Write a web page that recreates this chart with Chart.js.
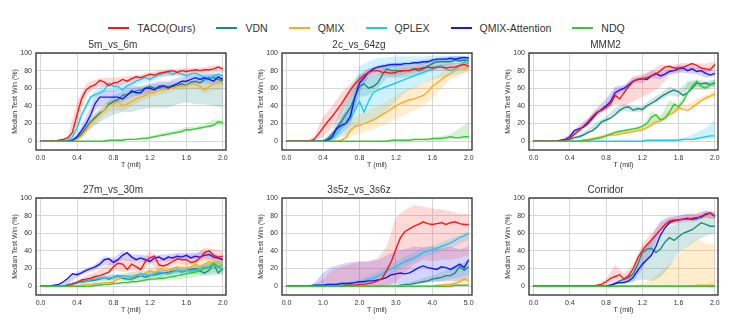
<!DOCTYPE html>
<html>
<head>
<meta charset="utf-8">
<title>Median test win</title>
<script src="https://cdn.jsdelivr.net/npm/chart.js@4.4.1/dist/chart.umd.min.js"></script>
<style>
  body { margin: 0; width: 733px; height: 327px; background: #fff; position: relative; overflow: hidden;
         font-family: "Liberation Sans", Arial, sans-serif; color: #333; }
  #legend { position: absolute; left: 0; width: 733px; top: 22px; display: flex; justify-content: center;
            font-size: 10.5px; line-height: 12px; }
  #legend .item { display: flex; align-items: center; margin: 0 10.5px; }
  #legend .swatch { width: 21px; height: 2px; margin-right: 8px; }
  .panel { position: absolute; }
</style>
</head>
<body>
<div id="legend"></div>
<canvas class="panel" id="p0"></canvas>
<canvas class="panel" id="p1"></canvas>
<canvas class="panel" id="p2"></canvas>
<canvas class="panel" id="p3"></canvas>
<canvas class="panel" id="p4"></canvas>
<canvas class="panel" id="p5"></canvas>
<script>
// time axis samples (million steps)
const T2 = [0,0.05,0.1,0.15,0.2,0.25,0.3,0.35,0.4,0.45,0.5,0.55,0.6,0.65,0.7,0.75,0.8,0.85,0.9,0.95,1,1.05,1.1,1.15,1.2,1.25,1.3,1.35,1.4,1.45,1.5,1.55,1.6,1.65,1.7,1.75,1.8,1.85,1.9,1.95,2];
const TB2 = [0,0.1,0.2,0.3,0.4,0.5,0.6,0.7,0.8,0.9,1,1.1,1.2,1.3,1.4,1.5,1.6,1.7,1.8,1.9,2];
const T5 = [0,0.125,0.25,0.375,0.5,0.625,0.75,0.875,1,1.125,1.25,1.375,1.5,1.625,1.75,1.875,2,2.125,2.25,2.375,2.5,2.625,2.75,2.875,3,3.125,3.25,3.375,3.5,3.625,3.75,3.875,4,4.125,4.25,4.375,4.5,4.625,4.75,4.875,5];
const TB5 = [0,0.25,0.5,0.75,1,1.25,1.5,1.75,2,2.25,2.5,2.75,3,3.25,3.5,3.75,4,4.25,4.5,4.75,5];

const methods = ['TACO(Ours)', 'VDN', 'QMIX', 'QPLEX', 'QMIX-Attention', 'NDQ'];
const lineColors = ['#ff1414', '#1b8a84', '#ffab1f', '#22c4f7', '#1515ff', '#36c936'];
const bandColors = ['rgba(255,60,60,0.2)', 'rgba(27,138,132,0.2)', 'rgba(255,171,31,0.22)',
                    'rgba(34,196,247,0.22)', 'rgba(40,40,255,0.2)', 'rgba(54,201,54,0.22)'];
const yTicks = [0, 20, 40, 60, 80, 100];
const xTicks2 = [0, 0.4, 0.8, 1.2, 1.6, 2.0];
const xTicks5 = [0, 1, 2, 3, 4, 5];

// 5m_vs_6m
const m5Taco = [0,0,0,0,1,2,4,10,30,48,58,62,64,69,67,63,66,67,70,68,71,73,72,74,76,75,77,78,79,80,78,80,79,80,81,80,81,81,82,84,82];
const m5Vdn = [0,0,0,0,0,0,0,1,3,8,15,22,27,32,35,42,45,47,52,53,55,57,58,60,62,60,60,62,62,62,63,65,63,67,68,66,70,72,72,70,68];
const m5Qmix = [0,0,0,0,0,0,0,1,2,6,12,20,25,30,35,40,42,45,40,42,45,48,50,52,55,55,58,58,60,60,62,62,63,65,65,62,58,62,65,68,65];
const m5Qplex = [0,0,0,0,0,0,1,5,15,30,40,50,53,55,58,66,62,62,58,63,65,68,70,72,70,73,75,77,78,76,78,76,74,76,77,75,72,70,74,76,74];
const m5Att = [0,0,0,0,0,0,0,1,5,12,20,30,43,50,50,50,50,50,48,52,57,55,55,60,60,58,62,63,60,63,65,68,68,70,72,70,72,70,68,73,70];
const m5Ndq = [0,0,0,0,0,0,0,0,0,0,0,0,0,0,0,1,1,1,1,2,2,2,3,3,4,5,6,7,8,9,10,11,13,13,14,15,16,17,18,22,21];
const m5TacoLo = [0,0,0,1,18,52,60,62,62,64,67,70,72,74,74,75,75,77,77,78,78];
const m5TacoHi = [0,0,1,6,45,65,70,72,72,73,74,76,78,80,82,82,83,83,84,86,85];
const m5VdnLo = [0,0,0,0,1,10,18,25,30,33,33,36,38,38,38,42,44,42,42,40,38];
const m5VdnHi = [0,0,0,1,5,20,32,42,52,56,60,62,64,65,66,68,68,70,74,76,72];
const m5QmixLo = [0,0,0,0,0,8,20,30,36,34,40,45,50,52,55,58,58,60,54,58,58];
const m5QmixHi = [0,0,0,0,4,18,32,42,46,46,52,56,60,62,64,66,68,68,66,70,70];
const m5QplexLo = [0,0,0,0,10,36,50,55,56,58,62,66,67,71,74,74,71,73,68,70,70];
const m5QplexHi = [0,0,0,1,20,45,58,64,66,66,70,74,74,78,80,80,78,80,77,78,78];
const m5AttLo = [0,0,0,0,2,14,35,42,42,45,50,52,55,58,58,62,63,65,66,64,65];
const m5AttHi = [0,0,0,0,8,28,52,58,58,60,63,62,65,68,68,72,73,75,76,76,76];
const m5NdqLo = [0,0,0,0,0,0,0,0,0,1,1,2,3,5,7,9,11,13,15,17,18];
const m5NdqHi = [0,0,0,0,0,0,0,1,2,3,3,4,6,9,11,13,16,17,19,25,24];

// 2c_vs_64zg
const c2Taco = [0,0,0,0,0,0,2,8,15,22,28,35,42,50,58,65,70,75,78,80,80,78,78,77,78,80,80,80,82,82,83,84,83,84,84,83,84,84,86,87,85];
const c2Vdn = [0,0,0,0,0,0,0,0,0,3,8,15,22,30,38,50,62,65,60,62,66,75,82,80,80,79,80,80,82,80,82,85,88,90,90,90,90,92,91,92,91];
const c2Qmix = [0,0,0,0,0,0,0,0,0,0,0,0,1,4,12,17,18,20,22,24,27,30,33,37,40,43,45,47,48,50,52,56,62,66,70,74,77,80,82,82,84];
const c2Qplex = [0,0,0,0,0,0,0,0,0,0,3,8,15,20,25,35,45,33,45,55,58,60,62,64,66,68,70,72,74,76,78,80,81,84,86,82,80,82,85,90,88];
const c2Att = [0,0,0,0,0,0,0,0,0,1,5,14,18,20,28,50,66,72,78,82,84,85,86,87,87,87,88,88,89,89,90,90,92,93,93,93,94,93,94,95,94];
const c2Ndq = [0,0,0,0,0,0,0,0,0,0,0,0,0,0,0,0,0,0,0,0,0,0,0,1,1,1,1,1,2,2,2,2,3,3,3,4,5,4,4,5,5];
const c2TacoLo = [0,0,0,0,5,15,30,48,62,72,75,74,74,76,78,79,80,80,80,82,81];
const c2TacoHi = [0,0,0,5,28,40,55,65,75,82,84,82,82,84,85,87,86,87,88,89,89];
const c2VdnLo = [0,0,0,0,0,2,15,22,50,52,60,72,72,72,74,76,80,84,86,88,88];
const c2VdnHi = [0,0,0,0,1,12,40,62,75,72,75,88,86,86,86,88,92,94,95,96,95];
const c2QmixLo = [0,0,0,0,0,0,0,5,8,12,15,20,25,30,35,40,48,60,70,75,78];
const c2QmixHi = [0,0,0,0,0,0,2,25,30,35,40,45,52,58,62,66,72,78,84,88,90];
const c2QplexLo = [0,0,0,0,0,0,5,10,20,22,25,35,45,55,60,66,70,72,74,76,80];
const c2QplexHi = [0,0,0,0,0,6,25,50,85,90,94,95,96,96,96,96,97,97,97,97,97];
const c2AttLo = [0,0,0,0,0,0,8,18,55,74,80,83,84,85,86,87,89,90,91,92,92];
const c2AttHi = [0,0,0,0,0,8,28,40,75,82,86,88,89,90,91,92,94,95,96,97,96];
const c2NdqLo = [0,0,0,0,0,0,0,0,0,0,0,0,0,0,0,0,0,0,2,2,3];
const c2NdqHi = [0,0,0,0,0,0,0,0,0,0,0,1,2,2,3,3,4,6,8,15,22];

// MMM2
const mmTaco = [0,0,0,0,0,0,0,1,3,8,12,17,22,28,33,35,38,42,52,48,55,62,68,70,71,72,74,76,80,84,85,83,83,84,86,88,86,83,82,81,87];
const mmVdn = [0,0,0,0,0,0,0,1,2,4,5,7,10,12,16,22,24,26,30,35,38,39,35,37,36,40,43,46,50,53,56,58,56,52,55,60,66,65,66,64,66];
const mmQmix = [0,0,0,0,0,0,0,0,0,0,0,1,2,3,4,5,6,7,7,8,9,10,11,12,13,15,18,22,23,26,30,33,38,36,35,38,42,46,49,51,54];
const mmQplex = [0,0,0,0,0,0,0,0,0,0,0,0,0,0,0,0,0,0,0,0,0,0,0,0,0,1,1,1,1,1,1,1,1,2,2,2,3,4,5,6,6];
const mmAtt = [0,0,0,0,0,0,1,2,5,12,14,16,20,26,32,36,40,45,55,58,60,64,68,70,71,70,74,77,74,76,79,80,82,83,80,82,79,80,77,75,77];
const mmNdq = [0,0,0,0,0,0,0,0,0,0,0,1,1,2,3,4,6,8,10,11,12,13,14,15,17,20,27,30,24,26,33,42,39,45,55,62,68,62,60,64,67];
const mmTacoLo = [0,0,0,0,2,10,19,30,35,42,40,45,50,55,62,75,78,82,80,76,82];
const mmTacoHi = [0,0,0,1,4,14,25,36,42,60,62,74,76,80,87,86,88,89,88,88,90];
const mmVdnLo = [0,0,0,0,1,3,8,14,22,30,34,33,33,42,46,52,50,60,62,60,62];
const mmVdnHi = [0,0,0,0,3,7,14,22,28,38,42,40,40,48,54,62,58,68,70,68,70];
const mmQmixLo = [0,0,0,0,0,0,1,3,6,7,8,9,12,18,22,30,34,36,42,46,50];
const mmQmixHi = [0,0,0,0,0,1,3,6,9,10,11,13,16,24,28,36,40,42,48,53,58];
const mmQplexLo = [0,0,0,0,0,0,0,0,0,0,0,0,0,0,0,0,0,1,1,2,2];
const mmQplexHi = [0,0,0,0,0,0,0,0,0,0,0,0,1,1,2,2,3,5,10,15,24];
const mmAttLo = [0,0,0,0,3,11,17,28,38,50,56,66,66,72,70,76,78,77,76,72,74];
const mmAttHi = [0,0,0,2,8,18,26,38,48,62,64,72,74,80,78,82,86,85,84,82,80];
const mmNdqLo = [0,0,0,0,0,0,0,1,4,8,10,12,13,18,20,28,35,58,58,58,62];
const mmNdqHi = [0,0,0,0,0,0,1,3,8,12,14,15,17,34,28,46,42,66,68,66,70];

// 27m_vs_30m
const m27Taco = [0,0,0,0,0,0,1,2,4,7,8,9,11,12,14,16,22,26,25,19,25,22,19,28,32,34,24,23,25,28,31,30,30,27,28,32,38,40,35,33,34];
const m27Vdn = [0,0,0,0,0,0,1,3,4,5,6,6,7,8,10,8,10,12,9,8,8,10,12,10,12,13,14,15,16,17,18,16,18,19,20,17,15,18,25,15,20];
const m27Qmix = [0,0,0,0,0,0,0,0,0,1,2,2,3,3,4,4,5,8,10,11,12,13,12,15,18,15,20,18,17,20,22,18,20,22,25,22,25,28,25,28,27];
const m27Qplex = [0,0,0,0,0,0,2,3,4,4,5,7,8,9,10,9,10,11,12,11,10,12,14,13,12,14,16,15,14,16,18,17,18,17,18,20,22,21,24,22,24];
const m27Att = [0,0,0,1,2,5,9,14,13,15,18,20,22,25,30,31,27,30,35,38,33,30,32,30,28,32,33,30,33,32,34,33,35,32,34,33,35,36,33,32,30];
const m27Ndq = [0,0,0,0,0,0,0,0,0,0,0,0,1,1,2,2,3,3,4,4,5,5,6,7,8,8,9,9,10,11,12,13,14,15,16,18,20,22,26,22,18];
const m27TacoLo = [0,0,0,0,3,5,9,12,18,16,18,15,26,18,22,26,24,26,30,28,28];
const m27TacoHi = [0,0,0,2,6,12,16,22,30,32,30,28,40,30,32,36,36,36,44,42,40];
const m27VdnLo = [0,0,0,0,2,4,5,6,7,6,6,8,9,10,12,14,14,14,12,12,14];
const m27VdnHi = [0,0,0,2,6,8,10,12,13,12,12,14,16,18,20,22,22,24,24,28,26];
const m27QmixLo = [0,0,0,0,0,1,2,3,6,9,10,10,13,14,14,16,16,18,20,20,22];
const m27QmixHi = [0,0,0,0,1,3,5,6,10,14,16,17,20,22,22,26,26,30,32,32,32];
const m27QplexLo = [0,0,0,1,3,4,6,7,9,8,10,10,11,12,13,15,15,16,18,20,20];
const m27QplexHi = [0,0,0,4,6,8,11,12,14,14,16,16,18,19,20,22,22,23,26,28,28];
const m27AttLo = [0,0,0,3,10,15,18,24,24,30,28,28,26,28,28,30,30,30,32,30,27];
const m27AttHi = [0,0,1,8,16,20,25,34,32,40,36,36,34,36,36,38,38,38,40,37,34];
const m27NdqLo = [0,0,0,0,0,0,0,1,2,3,4,5,6,7,7,8,9,10,12,16,12];
const m27NdqHi = [0,0,0,0,0,0,2,3,5,6,7,9,10,12,14,16,18,20,26,30,26];

// 3s5z_vs_3s6z
const s3Taco = [0,0,0,0,0,0,0,0,0,0,0,0,0,1,1,1,2,2,3,4,6,9,18,28,42,55,62,65,68,70,73,71,70,71,72,70,72,73,71,70,70];
const s3Vdn = [0,0,0,0,0,0,0,0,0,0,0,0,0,0,0,0,0,0,0,0,0,0,0,0,0,1,2,2,3,4,5,6,8,9,10,12,12,15,22,18,22];
const s3Qmix = [0,0,0,0,0,0,0,0,0,0,0,0,0,0,0,0,0,0,0,0,0,0,0,0,0,0,0,0,0,0,0,0,0,1,1,2,2,3,5,8,6];
const s3Qplex = [0,0,0,0,0,0,1,1,1,2,2,2,3,3,4,4,5,6,8,9,11,14,17,20,22,25,28,30,32,35,38,40,41,43,45,47,49,52,55,57,60];
const s3Att = [0,0,0,0,0,0,1,1,1,2,2,2,3,3,3,4,5,5,6,6,7,8,10,13,14,15,14,15,18,21,23,21,20,19,22,21,19,22,25,21,30];
const s3Ndq = [0,0,0,0,0,0,0,0,0,0,0,0,0,0,0,0,0,0,0,0,0,0,0,0,0,0,0,0,0,0,0,0,0,0,0,0,0,1,1,1,1];
const s3TacoLo = [0,0,0,0,0,0,0,0,0,0,0,0,5,15,25,30,28,30,30,32,35];
const s3TacoHi = [0,0,0,2,8,18,22,25,28,28,32,45,78,86,92,90,88,87,85,82,82];
const s3VdnLo = [0,0,0,0,0,0,0,0,0,0,0,0,0,0,1,3,5,6,8,10,14];
const s3VdnHi = [0,0,0,0,0,0,0,0,0,0,0,0,1,3,6,9,12,16,20,25,30];
const s3QmixLo = [0,0,0,0,0,0,0,0,0,0,0,0,0,0,0,0,0,0,0,0,0];
const s3QmixHi = [0,0,0,0,0,0,0,0,0,0,0,0,0,0,0,0,1,3,5,10,15];
const s3QplexLo = [0,0,0,0,0,0,1,2,3,5,7,12,17,22,28,33,36,40,43,48,52];
const s3QplexHi = [0,0,0,0,1,2,4,6,8,12,16,22,28,34,38,44,46,50,54,58,62];
const s3AttLo = [0,0,0,0,0,0,0,0,0,0,0,1,2,3,4,4,5,5,6,6,8];
const s3AttHi = [0,0,0,3,15,22,25,27,28,28,30,35,40,42,45,44,45,43,45,42,45];

// Corridor
const corTaco = [0,0,0,0,0,0,0,0,0,0,0,0,0,0,1,2,5,9,11,13,8,12,20,32,40,47,52,58,64,70,74,75,75,76,76,77,78,78,81,83,80];
const corVdn = [0,0,0,0,0,0,0,0,0,0,0,0,0,0,0,0,0,1,3,6,8,10,14,25,38,42,43,38,42,50,55,52,56,60,62,64,68,72,70,68,68];
const corQmix = [0,0,0,0,0,0,0,0,0,0,0,0,0,0,0,0,0,0,0,0,0,0,0,0,0,0,0,0,0,0,0,0,0,0,0,0,1,1,1,1,1];
const corQplex = [0,0,0,0,0,0,0,0,0,0,0,0,0,0,0,0,0,0,0,0,0,0,0,0,0,0,0,0,0,0,0,0,0,0,0,0,0,0,0,0,0];
const corAtt = [0,0,0,0,0,0,0,0,0,0,0,0,0,0,0,0,0,1,3,4,4,6,10,18,25,30,35,45,58,66,72,74,75,76,77,76,77,79,82,83,79];
const corNdq = [0,0,0,0,0,0,0,0,0,0,0,0,0,0,0,0,0,0,0,0,0,0,0,0,0,0,0,0,0,0,0,0,0,0,0,0,0,0,0,0,0];
const corTacoLo = [0,0,0,0,0,0,0,0,2,5,5,12,32,48,62,70,72,74,75,78,76];
const corTacoHi = [0,0,0,0,0,0,0,1,8,24,14,25,48,60,72,78,80,82,82,85,84];
const corVdnLo = [0,0,0,0,0,0,0,0,0,2,4,5,8,6,10,22,38,45,52,57,60];
const corVdnHi = [0,0,0,0,0,0,0,0,1,4,10,20,45,50,60,68,72,74,78,80,78];
const corQmixLo = [0,0,0,0,0,0,0,0,0,0,0,0,0,0,0,0,0,0,0,0,0];
const corQmixHi = [0,0,0,0,0,0,0,0,0,0,0,1,3,8,16,25,35,46,54,48,48];
const corAttLo = [0,0,0,0,0,0,0,0,0,2,3,5,20,38,62,70,72,73,74,78,76];
const corAttHi = [0,0,0,0,0,0,0,0,1,5,7,14,32,56,74,79,80,82,82,86,84];

// series order: TACO, VDN, QMIX, QPLEX, QMIX-Attention, NDQ
const panels = [
  { title: '5m_vs_6m', box: [36, 53, 226, 150], t: T2, tb: TB2, xt: xTicks2, xmin: -0.05, xmax: 2.035,
    mean: [m5Taco, m5Vdn, m5Qmix, m5Qplex, m5Att, m5Ndq],
    lo: [m5TacoLo, m5VdnLo, m5QmixLo, m5QplexLo, m5AttLo, m5NdqLo],
    hi: [m5TacoHi, m5VdnHi, m5QmixHi, m5QplexHi, m5AttHi, m5NdqHi] },
  { title: '2c_vs_64zg', box: [282, 53, 472, 150], t: T2, tb: TB2, xt: xTicks2, xmin: -0.05, xmax: 2.035,
    mean: [c2Taco, c2Vdn, c2Qmix, c2Qplex, c2Att, c2Ndq],
    lo: [c2TacoLo, c2VdnLo, c2QmixLo, c2QplexLo, c2AttLo, c2NdqLo],
    hi: [c2TacoHi, c2VdnHi, c2QmixHi, c2QplexHi, c2AttHi, c2NdqHi] },
  { title: 'MMM2', box: [529, 53, 718, 150], t: T2, tb: TB2, xt: xTicks2, xmin: -0.05, xmax: 2.035,
    mean: [mmTaco, mmVdn, mmQmix, mmQplex, mmAtt, mmNdq],
    lo: [mmTacoLo, mmVdnLo, mmQmixLo, mmQplexLo, mmAttLo, mmNdqLo],
    hi: [mmTacoHi, mmVdnHi, mmQmixHi, mmQplexHi, mmAttHi, mmNdqHi] },
  { title: '27m_vs_30m', box: [36, 198, 226, 295], t: T2, tb: TB2, xt: xTicks2, xmin: -0.05, xmax: 2.035,
    mean: [m27Taco, m27Vdn, m27Qmix, m27Qplex, m27Att, m27Ndq],
    lo: [m27TacoLo, m27VdnLo, m27QmixLo, m27QplexLo, m27AttLo, m27NdqLo],
    hi: [m27TacoHi, m27VdnHi, m27QmixHi, m27QplexHi, m27AttHi, m27NdqHi] },
  { title: '3s5z_vs_3s6z', box: [282, 198, 472, 295], t: T5, tb: TB5, xt: xTicks5, xmin: -0.125, xmax: 5.09,
    mean: [s3Taco, s3Vdn, s3Qmix, s3Qplex, s3Att, s3Ndq],
    lo: [s3TacoLo, s3VdnLo, s3QmixLo, s3QplexLo, s3AttLo, null],
    hi: [s3TacoHi, s3VdnHi, s3QmixHi, s3QplexHi, s3AttHi, null] },
  { title: 'Corridor', box: [529, 198, 718, 295], t: T2, tb: TB2, xt: xTicks2, xmin: -0.05, xmax: 2.035,
    mean: [corTaco, corVdn, corQmix, corQplex, corAtt, corNdq],
    lo: [corTacoLo, corVdnLo, corQmixLo, null, corAttLo, null],
    hi: [corTacoHi, corVdnHi, corQmixHi, null, corAttHi, null] }
];

// which line sits on top (lower = drawn later)
const lineOrder = [1, 5, 4, 3, 2, 0];

const textColor = '#333';
const gridColor = '#d6d6d6';
const fontFamily = '"Liberation Sans", Arial, sans-serif';
const tickFamily = '"Liberation Sans Narrow", "Liberation Sans", Arial, sans-serif';

const frame = {
  id: 'frame',
  afterDraw(chart) {
    const { ctx, chartArea: a } = chart;
    ctx.save();
    ctx.strokeStyle = '#2b2b2b';
    ctx.lineWidth = 1.3;
    ctx.strokeRect(a.left, a.top, a.right - a.left, a.bottom - a.top);
    ctx.restore();
  }
};

// legend
const legendEl = document.getElementById('legend');
methods.forEach((m, i) => {
  const item = document.createElement('div');
  item.className = 'item';
  item.innerHTML = `<span class="swatch" style="background:${lineColors[i]}"></span><span>${m}</span>`;
  legendEl.appendChild(item);
});

const toPoints = (xs, ys) => xs.map((x, i) => ({ x, y: ys[i] }));

panels.forEach((p, k) => {
  const [L, T, R, B] = p.box;
  const canvas = document.getElementById('p' + k);
  const padL = 36, padT = 14, padR = 10, padB = 23;
  canvas.width = R - L + padL + padR;
  canvas.height = B - T + padT + padB;
  canvas.style.left = (L - padL) + 'px';
  canvas.style.top = (T - padT) + 'px';

  const datasets = [];
  methods.forEach((m, s) => {
    if (!p.lo[s]) return;
    datasets.push({ label: m + ' hi', data: toPoints(p.tb, p.hi[s]), borderWidth: 0, pointRadius: 0,
                    fill: false, order: 10 });
    datasets.push({ label: m + ' lo', data: toPoints(p.tb, p.lo[s]), borderWidth: 0, pointRadius: 0,
                    fill: '-1', backgroundColor: bandColors[s], order: 10 });
  });
  methods.forEach((m, s) => {
    datasets.push({ label: m, data: toPoints(p.t, p.mean[s]), borderColor: lineColors[s], borderWidth: 1.4,
                    pointRadius: 0, fill: false, tension: 0, order: lineOrder[s] });
  });

  new Chart(canvas, {
    type: 'line',
    data: { datasets },
    options: {
      responsive: false,
      animation: false,
      devicePixelRatio: 1,
      layout: { padding: { left: 0, top: 0, right: padR, bottom: 0 } },
      plugins: {
        legend: { display: false },
        tooltip: { enabled: false },
        title: { display: true, text: p.title, color: textColor, font: { family: fontFamily, size: 10, weight: 'normal' },
                 padding: { top: 0, bottom: 2 } }
      },
      scales: {
        x: {
          type: 'linear', min: p.xmin, max: p.xmax,
          afterBuildTicks: ax => { ax.ticks = p.xt.map(v => ({ value: v })); },
          afterFit: ax => { ax.height = padB; },
          ticks: { callback: v => v.toFixed(1), color: textColor, font: { family: tickFamily, size: 7 },
                   padding: 4, maxRotation: 0, autoSkip: false },
          grid: { color: gridColor, lineWidth: 1, drawTicks: false },
          border: { display: false },
          title: { display: true, text: 'T (mil)', color: textColor, font: { family: fontFamily, size: 7 },
                   padding: { top: 0, bottom: 4 } }
        },
        y: {
          min: -10, max: 100,
          afterBuildTicks: ax => { ax.ticks = yTicks.map(v => ({ value: v })); },
          afterFit: ax => { ax.width = padL; },
          ticks: { color: textColor, font: { family: tickFamily, size: 7 }, padding: 4 },
          grid: { color: gridColor, lineWidth: 1, drawTicks: false },
          border: { display: false },
          title: { display: true, text: 'Median Test Win (%)', color: textColor, font: { family: fontFamily, size: 7 },
                   padding: { top: 10.5, bottom: 0 } }
        }
      }
    },
    plugins: [frame]
  });
});
</script>
</body>
</html>
